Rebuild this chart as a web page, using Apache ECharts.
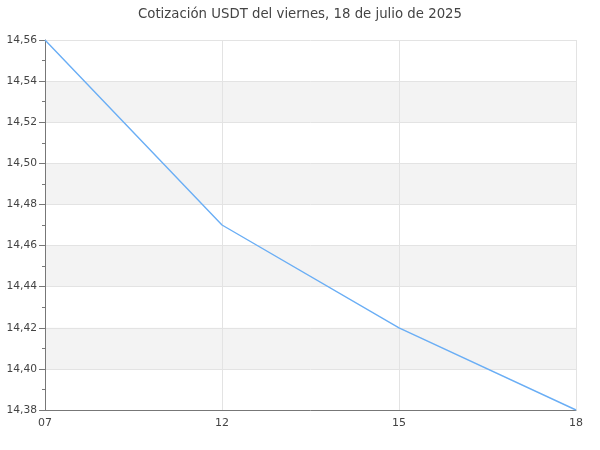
<!DOCTYPE html>
<html><head><meta charset="utf-8">
<script src="https://cdn.jsdelivr.net/npm/echarts@6/dist/echarts.min.js"></script>
<style>html,body{margin:0;padding:0;background:#fff}#c{width:600px;height:450px}</style>
</head><body><div id="c"></div>
<script>
const titleText = 'Cotización USDT del viernes, 18 de julio de 2025';
const categories = ['07', '12', '15', '18'];
const values = [14.56, 14.47, 14.42, 14.38];
const yMin = 14.38, yMax = 14.56, yStep = 0.02;

const chart = echarts.init(document.getElementById('c'), null, {renderer: 'canvas'});
chart.setOption({
  animation: false,
  textStyle: {fontFamily: 'DejaVu Sans'},
  title: {text: titleText, left: 'center', top: 3,
    textStyle: {fontSize: 13.3, fontWeight: 'normal', color: '#444', fontFamily: 'DejaVu Sans'}},
  grid: {left: 45, right: 24, top: 40, bottom: 40, containLabel: false},
  xAxis: {type: 'category', data: categories, boundaryGap: false,
    axisLine: {lineStyle: {color: '#777'}},
    axisTick: {show: false},
    axisLabel: {color: '#444', fontSize: 11, margin: 8},
    splitLine: {show: true, lineStyle: {color: '#e3e3e3'}}},
  yAxis: {type: 'value', min: yMin, max: yMax, interval: yStep,
    axisLine: {show: true, lineStyle: {color: '#777'}},
    axisTick: {show: true, length: 6, lineStyle: {color: '#777'}},
    minorTick: {show: true, splitNumber: 2, length: 3, lineStyle: {color: '#777'}},
    axisLabel: {color: '#444', fontSize: 10.7, margin: 8,
      formatter: v => v.toFixed(2).replace('.', ',')},
    splitLine: {show: true, lineStyle: {color: '#e3e3e3'}},
    splitArea: {show: true, areaStyle: {color: ['rgba(255,255,255,0)', '#f3f3f3']}}},
  series: [{type: 'line', data: values, showSymbol: false, symbol: 'none',
    lineStyle: {color: '#6aaef5', width: 1.4}}]
});
</script></body></html>
